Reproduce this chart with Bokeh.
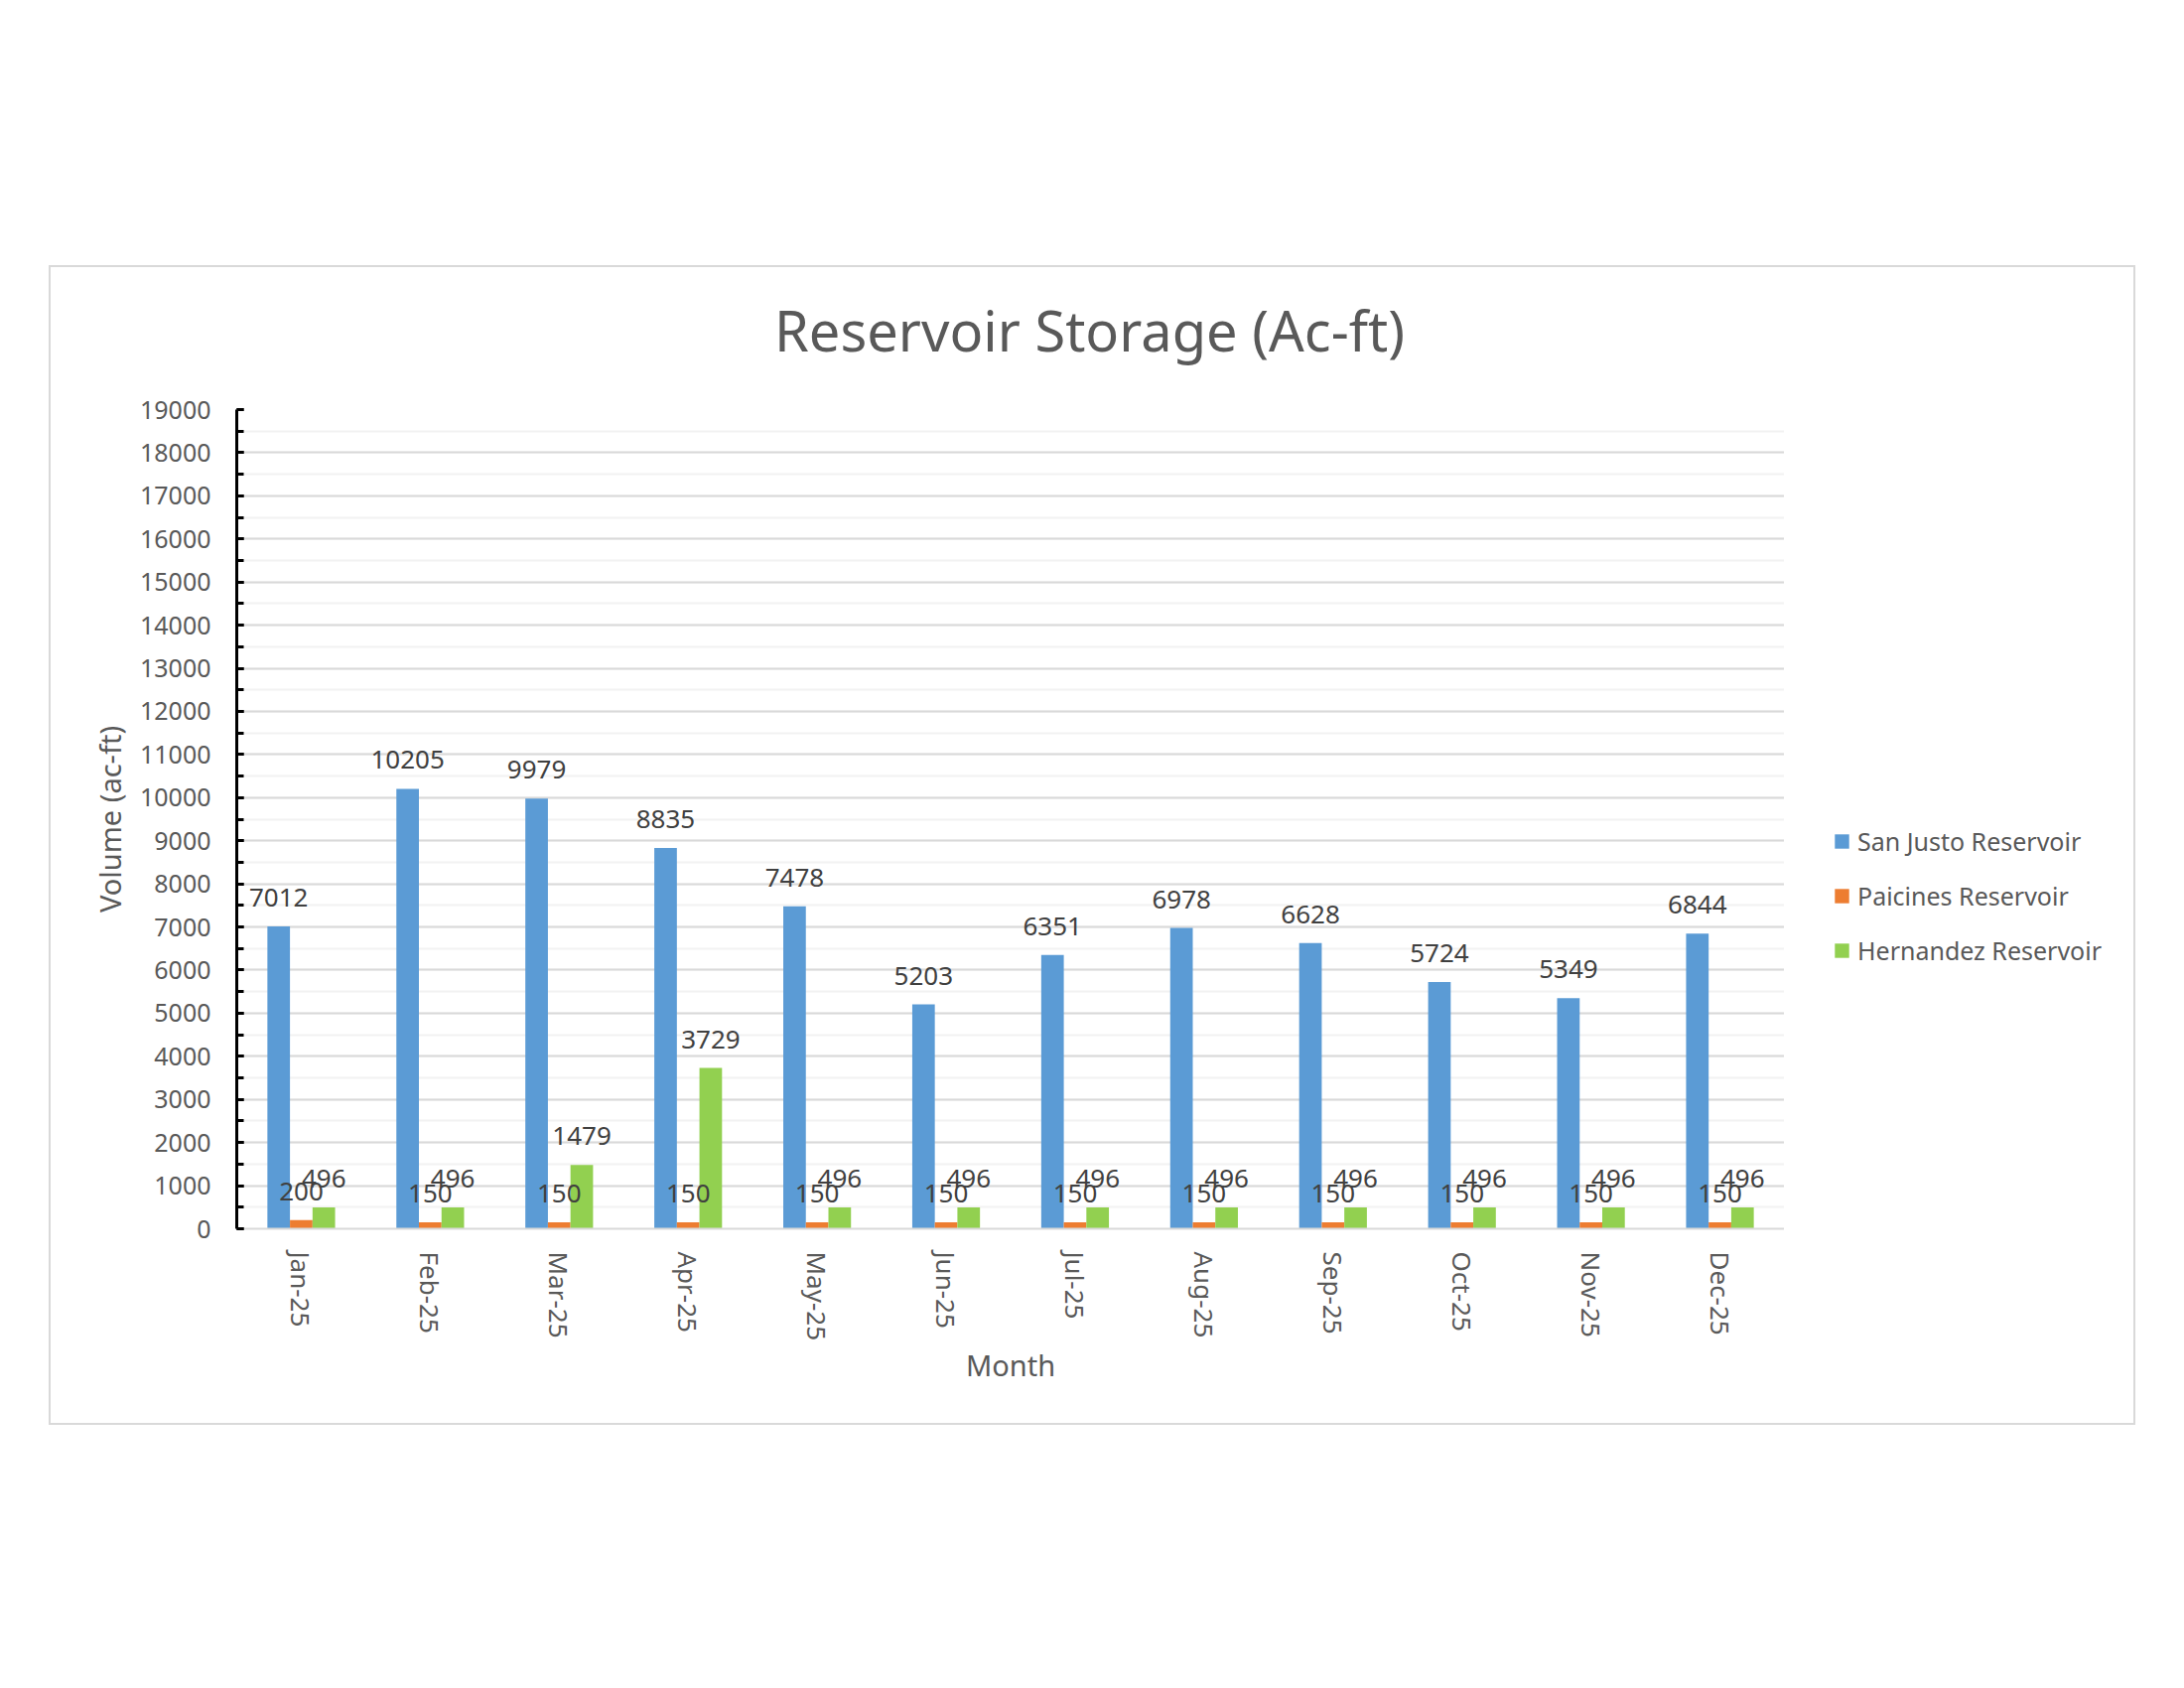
import math
import numpy as np
from bokeh.plotting import figure
from bokeh.layouts import row
from bokeh.models import (FactorRange, Range1d, SingleIntervalTicker, Legend, LegendItem,
                          ColumnDataSource, Label)
from bokeh.transform import dodge
from bokeh.core.properties import value
from bokeh.embed import file_html
from bokeh.resources import INLINE

# ---------------- data ----------------
months = ["Jan-25", "Feb-25", "Mar-25", "Apr-25", "May-25", "Jun-25",
          "Jul-25", "Aug-25", "Sep-25", "Oct-25", "Nov-25", "Dec-25"]
san_justo = [7012, 10205, 9979, 8835, 7478, 5203, 6351, 6978, 6628, 5724, 5349, 6844]
paicines = [200, 150, 150, 150, 150, 150, 150, 150, 150, 150, 150, 150]
hernandez = [496, 496, 1479, 3729, 496, 496, 496, 496, 496, 496, 496, 496]
series_names = ["San Justo Reservoir", "Paicines Reservoir", "Hernandez Reservoir"]
series_colors = ["#5B9BD5", "#ED7D31", "#92D050"]
y_max = 19000
y_step = 1000

title_text = "Reservoir Storage (Ac-ft)"
y_title = "Volume (ac-ft)"
x_title = "Month"

# ---------------- layout ----------------
FONT = "Noto Sans"
W_MAIN, W_LEG, H = 1746, 352, 1164
FL, FT, FB = 187, 143, 196
BAR_W = 0.175

src = ColumnDataSource(dict(
    month=months,
    s0=san_justo, s1=paicines, s2=hernandez,
    t0=[str(v) for v in san_justo],
    t1=[str(v) for v in paicines],
    t2=[str(v) for v in hernandez],
))

p = figure(x_range=FactorRange(*months), y_range=Range1d(0, y_max),
           width=W_MAIN, height=H, output_backend="svg", toolbar_location=None,
           min_border_left=FL, min_border_right=0,
           min_border_top=FT, min_border_bottom=FB)
p.outline_line_color = None
p.background_fill_color = "white"
p.border_fill_color = "white"

# chart title (label in the top panel)
p.add_layout(Label(x=859, y=81, x_units="screen", y_units="screen", text=title_text,
                   text_align="center", text_baseline="middle", text_font=FONT,
                   text_font_size="56px", text_color="#595959"), "above")

offsets = [-BAR_W, 0.0, BAR_W]
for i, (off, color) in enumerate(zip(offsets, series_colors)):
    p.vbar(x=dodge("month", off, range=p.x_range), top=f"s{i}", width=BAR_W,
           source=src, fill_color=color, line_color=None)
for i, off in enumerate(offsets):
    p.text(x=dodge("month", off, range=p.x_range), y=f"s{i}", text=f"t{i}", source=src,
           text_align="center", text_baseline="bottom", y_offset=-20,
           text_font=value(FONT), text_font_size="26px", text_color="#404040")

# grid
p.xgrid.grid_line_color = None
p.ygrid.grid_line_color = "#d9d9d9"
p.ygrid.grid_line_width = 2
p.ygrid.minor_grid_line_color = "#f2f2f2"
p.ygrid.minor_grid_line_width = 2

# y axis
p.yaxis.ticker = SingleIntervalTicker(interval=y_step, num_minor_ticks=2)
p.yaxis.axis_line_color = "black"
p.yaxis.axis_line_width = 3
p.yaxis.major_tick_in = 7
p.yaxis.major_tick_out = 0
p.yaxis.minor_tick_in = 7
p.yaxis.minor_tick_out = 0
p.yaxis.major_tick_line_color = "black"
p.yaxis.major_tick_line_width = 3
p.yaxis.minor_tick_line_color = "black"
p.yaxis.minor_tick_line_width = 3
p.yaxis.major_label_standoff = 26
p.yaxis.major_label_text_font = FONT
p.yaxis.major_label_text_font_size = "25px"
p.yaxis.major_label_text_color = "#595959"
p.yaxis.axis_label = y_title
p.yaxis.axis_label_standoff = 8
p.yaxis.axis_label_text_font = FONT
p.yaxis.axis_label_text_font_size = "29px"
p.yaxis.axis_label_text_font_style = "normal"
p.yaxis.axis_label_text_color = "#595959"

# x axis
p.xaxis.axis_line_color = "#d9d9d9"
p.xaxis.axis_line_width = 2
p.xaxis.major_tick_line_color = None
p.xaxis.minor_tick_line_color = None
p.xaxis.major_label_orientation = -math.pi / 2
p.xaxis.major_label_standoff = 17
p.xaxis.major_label_text_font = FONT
p.xaxis.major_label_text_font_size = "26px"
p.xaxis.major_label_text_color = "#595959"
p.xaxis.axis_label = x_title
p.xaxis.axis_label_standoff = 2
p.xaxis.axis_label_text_font = FONT
p.xaxis.axis_label_text_font_size = "29px"
p.xaxis.axis_label_text_font_style = "normal"
p.xaxis.axis_label_text_color = "#595959"

# legend panel (separate canvas to the right, inside the same bordered box)
lf = figure(width=W_LEG, height=H, x_range=Range1d(0, 1), y_range=Range1d(0, 1),
            output_backend="svg", toolbar_location=None,
            x_axis_location=None, y_axis_location=None, min_border=0)
lf.outline_line_color = None
lf.background_fill_color = "white"
lf.border_fill_color = "white"
lf.xgrid.grid_line_color = None
lf.ygrid.grid_line_color = None
# legend swatches only (no position -> nothing drawn in the panel itself)
leg_src = ColumnDataSource(dict(name=series_names, color=series_colors,
                                x=np.full(len(series_names), np.nan),
                                top=np.full(len(series_names), np.nan)))
sw = lf.vbar(x="x", top="top", width=0.1, fill_color="color", line_color=None, source=leg_src)
legend = Legend(items=[LegendItem(label=n, renderers=[sw], index=i)
                       for i, n in enumerate(series_names)],
                location=(49, 262), orientation="vertical",
                glyph_width=18, glyph_height=18, label_standoff=7, spacing=19,
                padding=0, margin=0, border_line_color=None, background_fill_alpha=0,
                label_text_font=FONT, label_text_font_size="25px",
                label_text_color="#595959", label_height=36)
lf.add_layout(legend)

page = row(p, lf, styles={"border": "2px solid #d9d9d9"}, margin=(267, 0, 0, 49))

open("out.html", "w").write(file_html(page, INLINE))
